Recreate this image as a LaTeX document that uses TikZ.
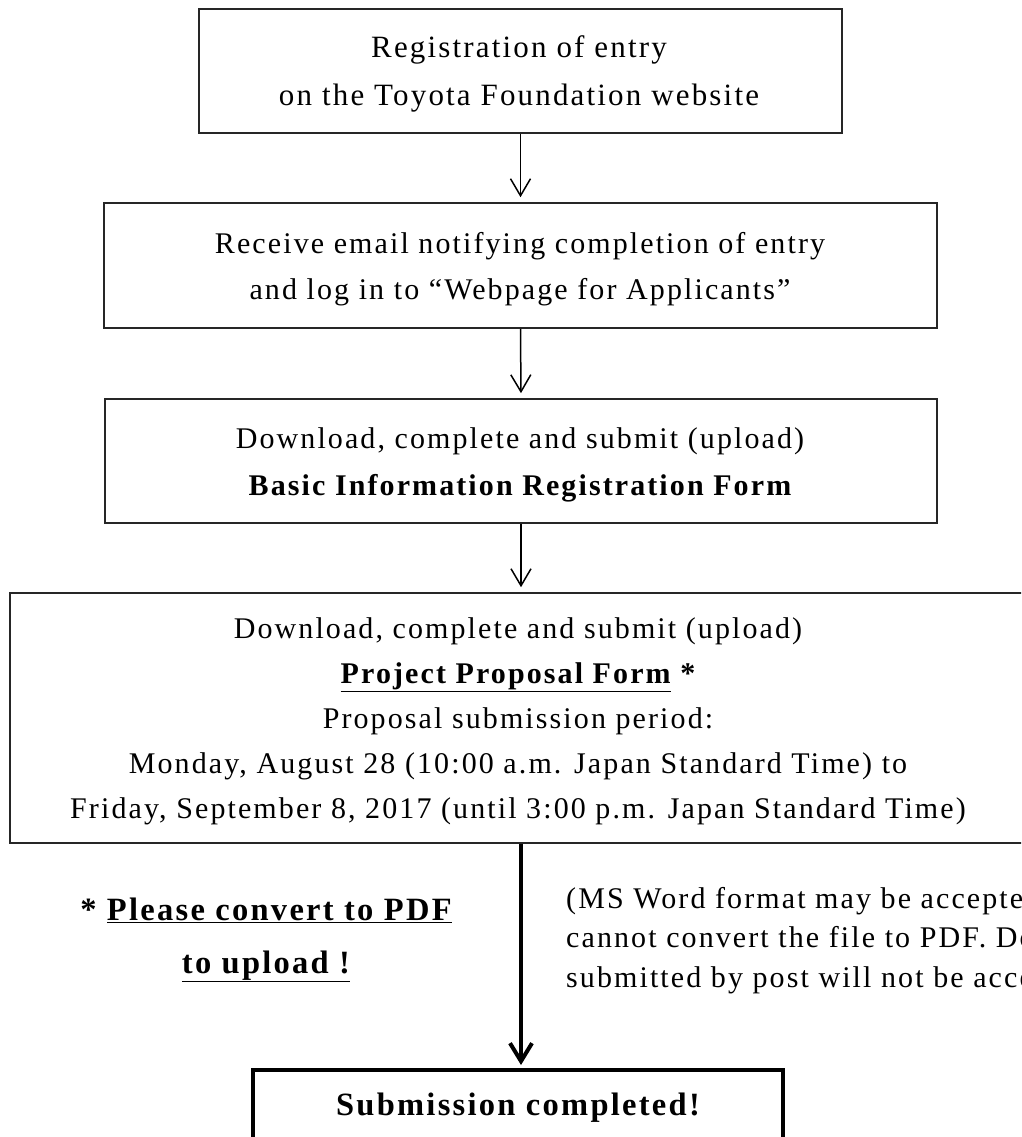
\documentclass[tikz,border=0pt]{standalone}
\usepackage{fontspec}
\setmainfont{Liberation Serif}[LetterSpace=7]
\usetikzlibrary{arrows.meta}
\tikzset{
  box/.style={draw=black!85, line width=1.6pt, inner sep=0pt},
  boldbox/.style={draw=black, line width=4pt, inner sep=0pt},
  txt/.style={anchor=base, inner sep=0pt, font=\fontsize{30}{34}\selectfont},
  bigbold/.style={anchor=base, inner sep=0pt, font=\fontsize{32.5}{36}\selectfont\bfseries},
  note/.style={anchor=base west, inner sep=0pt, font=\fontsize{30}{34}\selectfont},
  arr/.style={line width=1.5pt, -{Straight Barb[length=17pt,width=20pt,line width=1.5pt]}, shorten >=5pt},
  thickarr/.style={line width=4pt, -{Straight Barb[length=18pt,width=22pt,line width=4pt]}, shorten >=3pt},
}
\begin{document}
\begin{tikzpicture}[x=1pt,y=-1pt]
\useasboundingbox (0,0) rectangle (1021,1137);
\clip (0,0) rectangle (1021,1137);
% boxes
\node[box, minimum width=643pt, minimum height=124pt] (b1) at (520.5,71) {};
\node[box, minimum width=833pt, minimum height=125pt] (b2) at (520.5,265.5) {};
\node[box, minimum width=832pt, minimum height=124pt] (b3) at (521,461) {};
\node[box, minimum width=1030pt, minimum height=250pt] (b4) at (525,718) {};
\node[boldbox, minimum width=530pt, minimum height=90pt] (b5) at (518,1115) {};
% texts
\node[txt, font=\fontsize{31}{34}\selectfont] (t1a) at (519,58) {Registration of entry};
\node[txt, font=\fontsize{31}{34}\selectfont] (t1b) at (519,106) {on the Toyota Foundation website};
\node[txt] (t2a) at (520,253) {Receive email notifying completion of entry};
\node[txt] (t2b) at (520,299) {and log in to ``Webpage for Applicants''};
\node[txt] (t3a) at (520,448) {Download, complete and submit (upload)};
\node[txt] (t3b) at (520,495) {\bfseries Basic Information Registration Form};
\node[txt] (t4a) at (518,638) {Download, complete and submit (upload)};
\node[txt] (t4b) at (518,683) {\bfseries\underline{Project Proposal Form} *};
\node[txt] (t4c) at (518,728) {Proposal submission period:};
\node[txt] (t4d) at (518,773) {Monday, August 28 (10:00 a.m. Japan Standard Time) to};
\node[txt] (t4e) at (518,818) {Friday, September 8, 2017 (until 3:00 p.m. Japan Standard Time)};
\node[bigbold] (l1) at (266,920) {* \underline{Please convert to PDF}};
\node[bigbold] (l2) at (266,973) {\underline{to upload !}};
\node[note] (r1) at (566,908) {(MS Word format may be accepted};
\node[note] (r2) at (566,947) {cannot convert the file to PDF. Documents};
\node[note] (r3) at (566,987) {submitted by post will not be accepted.};
\node[bigbold] (t5) at (518,1115) {Submission completed!};
% connectors
\draw[arr] (b1.south) -- (b2.north);
\draw[arr] (b2.south) -- (b3.north);
\draw[arr] (b3.south) -- (b4.north -| b3.south);
\draw[thickarr] (b4.south -| b3.south) -- (b5.north -| b3.south);
\end{tikzpicture}
\end{document}
